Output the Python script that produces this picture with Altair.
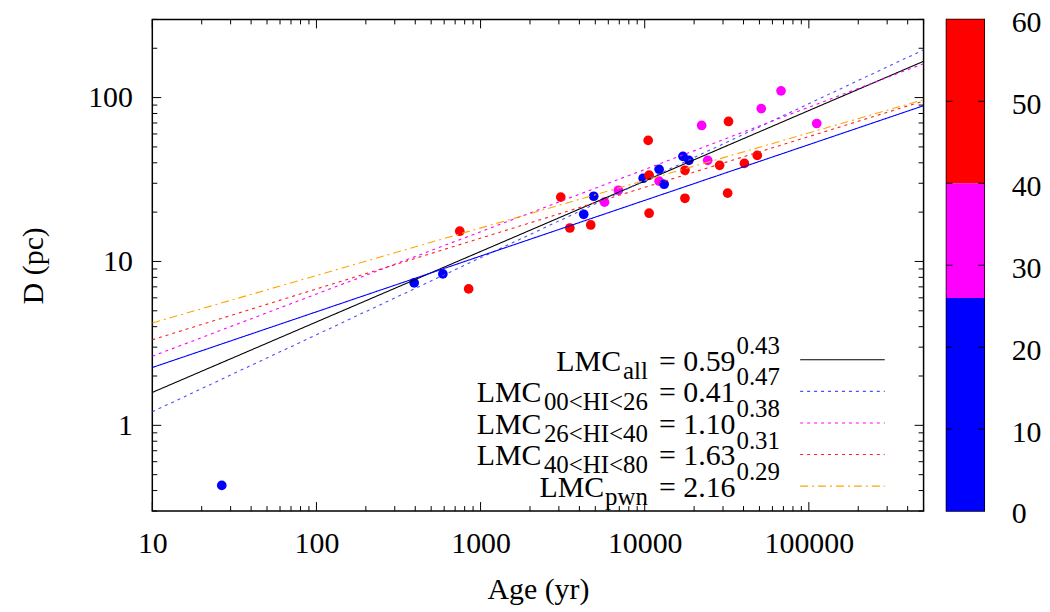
import altair as alt
import pandas as pd

# ---------------- data ----------------
age = [26.5, 394, 589, 747, 846, 3080, 3500, 4250, 4690, 4890, 5690, 6910,
       9790, 10640, 10500, 10640, 12240, 12240, 13130, 17100, 18590, 17580,
       17580, 22230, 24200, 28600, 32400, 32000, 40500, 48500, 51300, 67700,
       111700]
diam = [0.43, 7.4, 8.4, 15.3, 6.8, 24.7, 16.0, 19.4, 16.7, 25.0, 23.0, 27.2,
        32.2, 33.6, 54.8, 19.7, 36.5, 30.9, 29.6, 43.8, 41.4, 36.0,
        24.3, 67.6, 41.4, 38.6, 71.5, 26.1, 39.7, 44.4, 85.7, 110,
        69.5]
hi = [12, 18, 20, 48, 55, 45, 52, 22, 50, 16, 33, 30,
      21, 47, 58, 44, 19, 35, 24, 14, 23, 49,
      53, 36, 31, 46, 57, 43, 51, 54, 29, 38,
      34]

fit_names = ["all", "00<HI<26", "26<HI<40", "40<HI<80", "pwn", "HI<26 solid"]
fit_a = [0.59, 0.41, 1.10, 1.63, 2.16, 1.03]
fit_b = [0.43, 0.47, 0.38, 0.31, 0.29, 0.34]
fit_colors = ["#000000", "#4d4dff", "#ff00ff", "#ff2020", "#ffa500", "#0000ff"]
fit_dash = [[1, 0], [3, 4], [3, 4], [3, 4], [8, 4, 2, 4], [1, 0]]
age_range = [10, 500000]
d_range = [0.3, 300]

legend_sub = ["all", "00<HI<26", "26<HI<40", "40<HI<80", "pwn"]

cb_lo = [0, 26, 40]
cb_hi = [26, 40, 60]
cb_colors = ["#0000ff", "#ff00ff", "#ff0000"]
cb_ticks = [10, 20, 30, 40, 50]
cb_labels = [0, 10, 20, 30, 40, 50, 60]

x_major = [10, 100, 1000, 10000, 100000]
x_minor = [k * d for d in x_major for k in range(2, 10) if k * d <= 500000]
y_major = [1, 10, 100]
y_minor = [k * d for d in [0.1, 1, 10, 100] for k in range(2, 10) if 0.3 <= k * d <= 300]

# ---------------- layout ----------------
W, H = 775, 494
FONT = "Liberation Serif"
FS = 30
FS_SMALL = 25
row_base0, row_step = 353, 31.75
lmc_right = [471, 391, 391, 391, 454]
sub_right, eq_right, sup_left = 498, 586, 587
line_x0, line_x1 = 651, 736

pts = pd.DataFrame({"age": age, "D": diam, "HI": hi})

rows = []
for n, a, b in zip(fit_names, fit_a, fit_b):
    for x in age_range:
        rows.append({"fit": n, "age": x, "D": a * x ** b})
lines_df = pd.DataFrame(rows)

xscale = alt.Scale(type="log", domain=age_range, nice=False)
yscale = alt.Scale(type="log", domain=d_range, nice=False)

xaxis = alt.Axis(values=x_major, format="d", title="Age (yr)", ticks=False,
                 domain=False, grid=False, labelPadding=18, titlePadding=16,
                 labelFlush=False)
yaxis = alt.Axis(values=y_major, format="d", title="D (pc)", ticks=False,
                 domain=False, grid=False, labelPadding=20, titlePadding=39,
                 labelFlush=False)

points = alt.Chart(pts).mark_circle(size=95, opacity=1).encode(
    x=alt.X("age:Q", scale=xscale, axis=xaxis),
    y=alt.Y("D:Q", scale=yscale, axis=yaxis),
    fill=alt.Fill("HI:Q", scale=alt.Scale(type="threshold", domain=[26, 40],
                                           range=cb_colors), legend=None),
)

fits = alt.Chart(lines_df).mark_line(strokeWidth=1.1, clip=True).encode(
    x=alt.X("age:Q", scale=xscale),
    y=alt.Y("D:Q", scale=yscale),
    detail="fit:N",
    stroke=alt.Stroke("fit:N", scale=alt.Scale(domain=fit_names, range=fit_colors), legend=None),
    strokeDash=alt.StrokeDash("fit:N", scale=alt.Scale(domain=fit_names, range=fit_dash), legend=None),
)

# inward ticks (mirrored)
def vticks(vals, length, top):
    df = pd.DataFrame({"v": vals})
    y0 = 0 if top else H
    y1 = length if top else H - length
    return alt.Chart(df).mark_rule(color="black", strokeWidth=1).encode(
        x=alt.X("v:Q", scale=xscale), y=alt.value(y0), y2=alt.value(y1))

def hticks(vals, length, right):
    df = pd.DataFrame({"v": vals})
    x0 = W if right else 0
    x1 = W - length if right else length
    return alt.Chart(df).mark_rule(color="black", strokeWidth=1).encode(
        y=alt.Y("v:Q", scale=yscale), x=alt.value(x0), x2=alt.value(x1))

tick_layers = [vticks(x_major, 9, False), vticks(x_major, 9, True),
               vticks(x_minor, 5, False), vticks(x_minor, 5, True),
               hticks(y_major, 9, False), hticks(y_major, 9, True),
               hticks(y_minor, 5, False), hticks(y_minor, 5, True)]

# key
key_layers = []
one = pd.DataFrame({"k": [0]})
for i, sub in enumerate(legend_sub):
    base = row_base0 + i * row_step
    pieces = [
        ("LMC", lmc_right[i], base, "right", FS),
        (sub, sub_right, base + 8, "right", FS_SMALL),
        ("= %.2f" % fit_a[i], eq_right, base, "right", FS),
        ("%.2f" % fit_b[i], sup_left, base - 17, "left", FS_SMALL),
    ]
    for txt, px, py, al, fs in pieces:
        key_layers.append(
            alt.Chart(one).mark_text(text=txt, align=al, baseline="alphabetic",
                                     font=FONT, fontSize=fs, color="black").encode(
                x=alt.value(px), y=alt.value(py)))
    key_layers.append(
        alt.Chart(one).mark_rule(color=fit_colors[i], strokeWidth=1.1,
                                 strokeDash=fit_dash[i]).encode(
            x=alt.value(line_x0), x2=alt.value(line_x1), y=alt.value(base - 11)))

main = alt.layer(points, fits, *tick_layers, *key_layers).properties(width=W, height=H)

# colour bar
cb_df = pd.DataFrame({"lo": cb_lo, "hi": cb_hi, "c": cb_colors})
cbscale = alt.Scale(domain=[0, 60], nice=False)
cb_rect = alt.Chart(cb_df).mark_rect().encode(
    y=alt.Y("lo:Q", scale=cbscale,
            axis=alt.Axis(orient="right", values=cb_labels, title=None, ticks=False,
                          domain=False, grid=False, labelPadding=27, labelOffset=3,
                          labelFlush=False)),
    y2="hi:Q",
    x=alt.value(0), x2=alt.value(38),
    color=alt.Color("c:N", scale=None),
)
cbt = pd.DataFrame({"v": cb_ticks})
cb_t1 = alt.Chart(cbt).mark_rule(color="black").encode(
    y=alt.Y("v:Q", scale=cbscale), x=alt.value(0), x2=alt.value(6))
cb_t2 = alt.Chart(cbt).mark_rule(color="black").encode(
    y=alt.Y("v:Q", scale=cbscale), x=alt.value(38), x2=alt.value(32))
cbar = alt.layer(cb_rect, cb_t1, cb_t2).properties(width=38, height=H)

chart = alt.hconcat(main, cbar, spacing=19).properties(
    padding={"left": 10, "top": -3, "right": 0, "bottom": 5}
).configure_view(stroke="black", strokeWidth=1.5).configure_axis(
    labelFont=FONT, labelFontSize=FS, labelColor="black",
    titleFont=FONT, titleFontSize=FS, titleColor="black", titleFontWeight="normal",
)

chart.save("out.html", embed_options={"renderer": "svg", "actions": False})
